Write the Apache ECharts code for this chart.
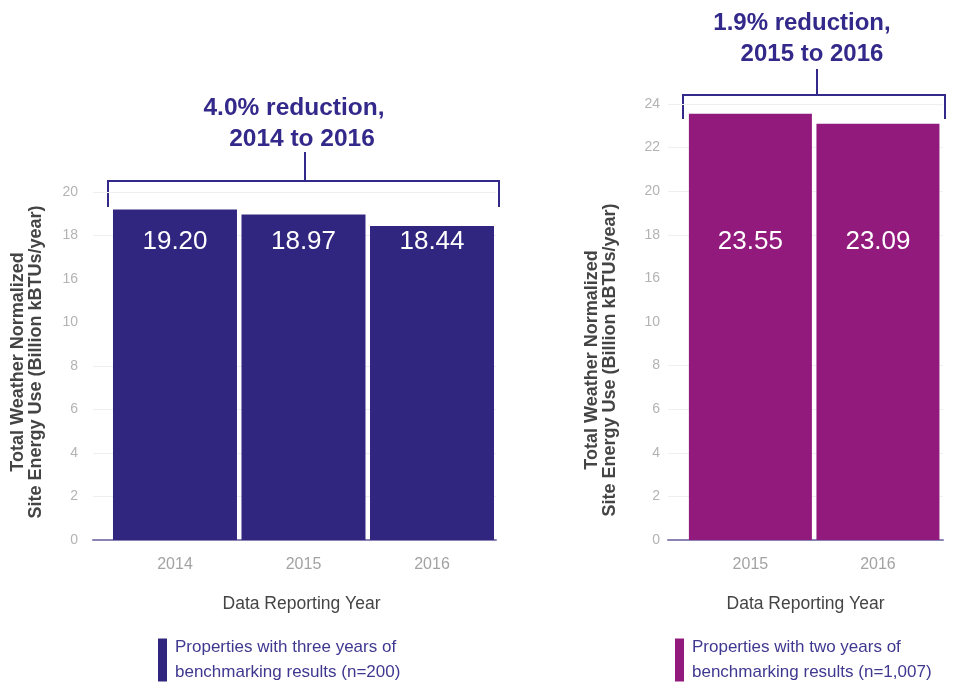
<!DOCTYPE html>
<html>
<head>
<meta charset="utf-8">
<script src="https://cdn.jsdelivr.net/npm/echarts@6/dist/echarts.min.js"></script>
<style>
  html, body { margin: 0; padding: 0; background: #ffffff; }
  #chart { width: 957px; height: 683px; }
</style>
</head>
<body>
<div id="chart"></div>
<script>
// Three-year cohort (left panel)
const yearsThree = ['2014', '2015', '2016'];
const energyThree = [19.20, 18.97, 18.44];
const ticksThree = [0, 2, 4, 6, 8, 10, 16, 18, 20];

// Two-year cohort (right panel)
const yearsTwo = ['2015', '2016'];
const energyTwo = [23.55, 23.09];
const ticksTwo = [0, 2, 4, 6, 8, 10, 16, 18, 20, 22, 24];

const seriesNameThree = 'Properties with three years of\nbenchmarking results (n=200)';
const seriesNameTwo = 'Properties with two years of\nbenchmarking results (n=1,007)';
const noteThree = ['4.0% reduction,', '2014 to 2016'];
const noteTwo = ['1.9% reduction,', '2015 to 2016'];
const axisTitleX = 'Data Reporting Year';
const axisTitleY = 'Total Weather Normalized\nSite Energy Use (Billion kBTUs/year)';

const FONT = '"Liberation Sans", Arial, sans-serif';
const INDIGO = '#30267f';
const MAGENTA = '#931a7d';
const NOTE = '#33298a';

const chart = echarts.init(document.getElementById('chart'), null, { renderer: 'canvas' });

// value axis with the 10–16 stretch collapsed into a single step
function valueAxis(gridIndex, ticks, labelMargin) {
  return {
    type: 'value', gridIndex, min: 0, max: ticks[ticks.length - 1], interval: 2,
    breaks: [{ start: 10, end: 16, gap: 2 }],
    breakArea: { show: false },
    axisLine: { show: false },
    axisTick: { show: false },
    axisLabel: { color: '#b3b3b3', fontSize: 14, fontFamily: FONT, margin: labelMargin },
    splitLine: { lineStyle: { color: '#efefef', width: 1 } }
  };
}

function yearAxis(gridIndex, cats, min, max, namePad) {
  return {
    type: 'value', gridIndex, min, max,
    axisLine: { show: true, onZero: false, lineStyle: { color: '#8a84b5', width: 2 } },
    axisTick: { show: false },
    splitLine: { show: false },
    axisLabel: {
      customValues: cats.map((_, i) => i),
      formatter: (v) => cats[Math.round(v)] || '',
      color: '#a3a3a3', fontSize: 16, fontFamily: FONT, margin: 17
    },
    name: axisTitleX, nameLocation: 'middle', nameGap: 55,
    nameTextStyle: { color: '#444444', fontSize: 17.5, fontFamily: FONT, padding: namePad }
  };
}

function valueLabel() {
  return {
    show: true, position: 'insideBottom', distance: 285,
    color: '#ffffff', fontSize: 26, fontFamily: FONT,
    formatter: (p) => p.value[1].toFixed(2)
  };
}

function legendFor(name, left) {
  return {
    data: [name], left, top: 630,
    icon: 'rect', itemWidth: 9, itemHeight: 43, itemGap: 0,
    textStyle: { color: '#3f3890', fontSize: 17, fontFamily: FONT, lineHeight: 25, padding: [0, 0, 0, 3] },
    selectedMode: false
  };
}

const option = {
  backgroundColor: '#ffffff',
  animation: false,
  grid: [
    { left: 93, right: 957 - 496, top: 192, bottom: 683 - 540 },
    { left: 668, right: 957 - 943, top: 104, bottom: 683 - 540 }
  ],
  xAxis: [
    yearAxis(0, yearsThree, -0.638, 2.498, [0, 0, 0, 14]),
    yearAxis(1, yearsTwo, -0.646, 1.51, [0, 0, 0, 0])
  ],
  yAxis: [valueAxis(0, ticksThree, 15), valueAxis(1, ticksTwo, 8)],
  legend: [legendFor(seriesNameThree, 153), legendFor(seriesNameTwo, 670)],
  series: [
    {
      name: seriesNameThree, type: 'bar', xAxisIndex: 0, yAxisIndex: 0,
      barWidth: 124, itemStyle: { color: INDIGO },
      data: energyThree.map((v, i) => [i, v]),
      label: valueLabel()
    },
    {
      name: seriesNameTwo, type: 'bar', xAxisIndex: 1, yAxisIndex: 1,
      barWidth: 123, itemStyle: { color: MAGENTA },
      data: energyTwo.map((v, i) => [i, v]),
      label: valueLabel()
    }
  ],
  graphic: [
    // bracket over the three-year bars
    { type: 'polyline', shape: { points: [[108, 207], [108, 181], [499, 181], [499, 207]] },
      style: { stroke: NOTE, lineWidth: 2, fill: null } },
    { type: 'line', shape: { x1: 305, y1: 181, x2: 305, y2: 152 }, style: { stroke: NOTE, lineWidth: 2 } },
    { type: 'text', x: 294, y: 108, style: { text: noteThree[0], fill: NOTE, font: 'bold 24.5px ' + FONT, textAlign: 'center', textVerticalAlign: 'middle' } },
    { type: 'text', x: 302, y: 139, style: { text: noteThree[1], fill: NOTE, font: 'bold 24.5px ' + FONT, textAlign: 'center', textVerticalAlign: 'middle' } },
    // bracket over the two-year bars
    { type: 'polyline', shape: { points: [[683, 119], [683, 95], [945, 95], [945, 119]] },
      style: { stroke: NOTE, lineWidth: 2, fill: null } },
    { type: 'line', shape: { x1: 817, y1: 95, x2: 817, y2: 69 }, style: { stroke: NOTE, lineWidth: 2 } },
    { type: 'text', x: 802, y: 23, style: { text: noteTwo[0], fill: NOTE, font: 'bold 24px ' + FONT, textAlign: 'center', textVerticalAlign: 'middle' } },
    { type: 'text', x: 812, y: 54, style: { text: noteTwo[1], fill: NOTE, font: 'bold 24px ' + FONT, textAlign: 'center', textVerticalAlign: 'middle' } },
    // vertical axis titles
    { type: 'text', x: 27, y: 362, rotation: Math.PI / 2,
      style: { text: axisTitleY, fill: '#444444', font: 'bold 18px ' + FONT, lineHeight: 18.5, textAlign: 'center', textVerticalAlign: 'middle' } },
    { type: 'text', x: 601, y: 360, rotation: Math.PI / 2,
      style: { text: axisTitleY, fill: '#444444', font: 'bold 18px ' + FONT, lineHeight: 18.5, textAlign: 'center', textVerticalAlign: 'middle' } }
  ]
};

chart.setOption(option);
</script>
</body>
</html>
